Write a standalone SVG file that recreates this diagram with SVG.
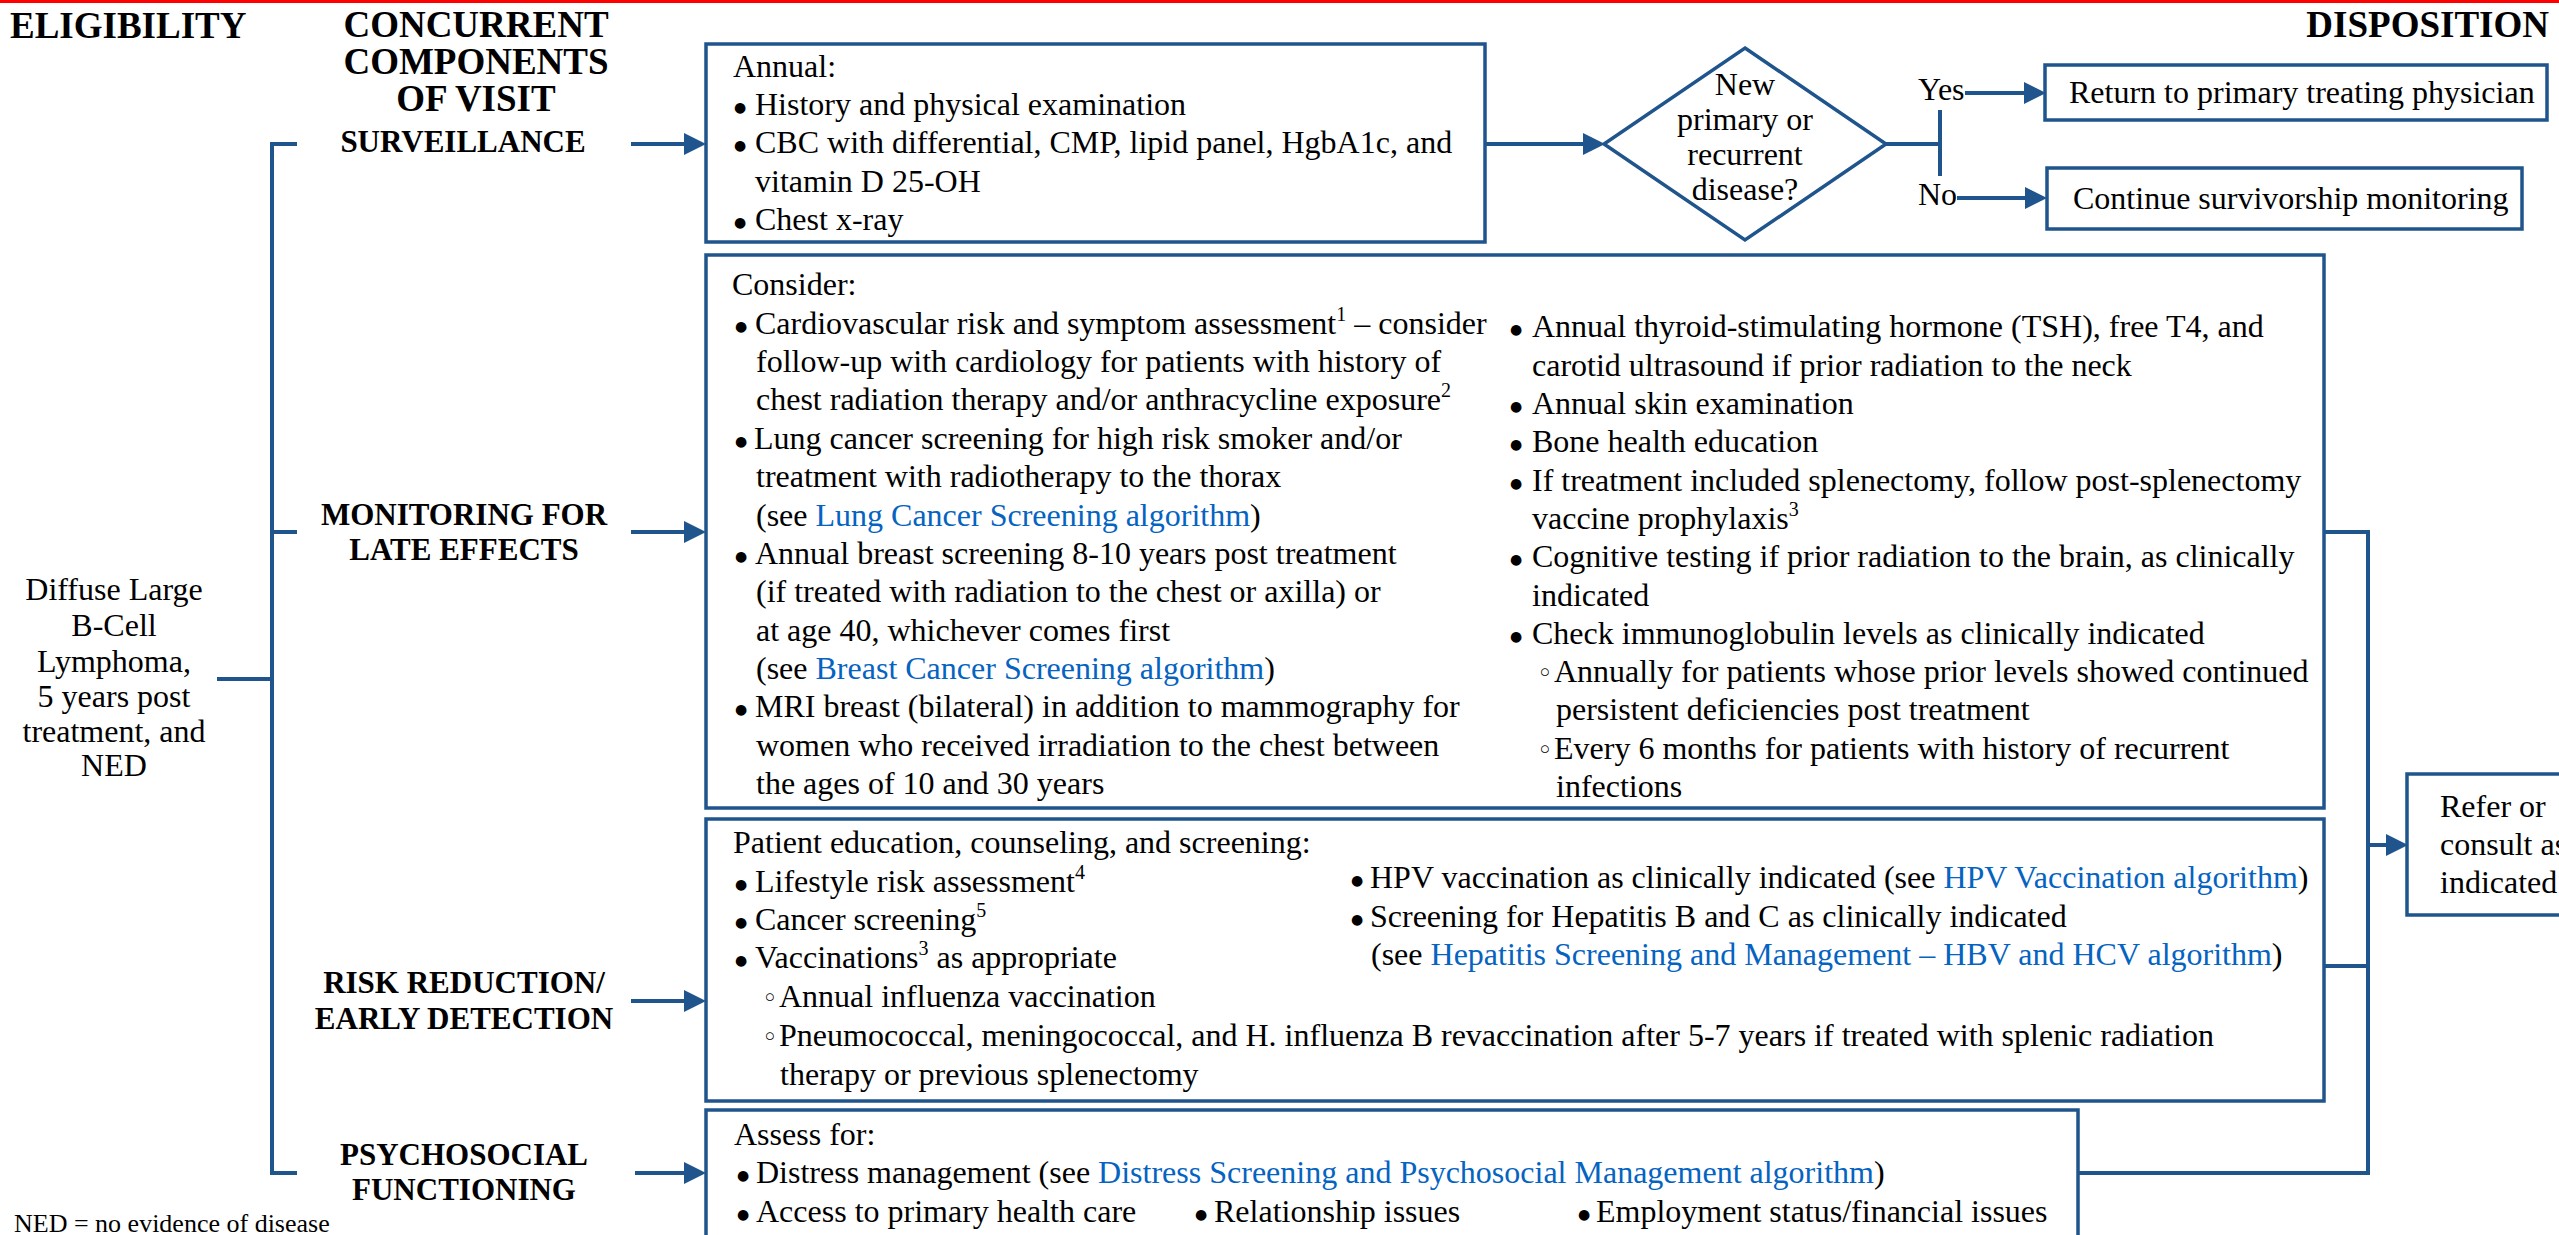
<svg xmlns="http://www.w3.org/2000/svg" width="2559" height="1235" viewBox="0 0 2559 1235">
<style>
text{font-family:"Liberation Serif","Times New Roman",serif;fill:#000}
.t{font-size:32px}
.h{font-size:37px;font-weight:bold}
.l{font-size:31px;font-weight:bold;text-anchor:middle}
.c{text-anchor:middle}
.lk{fill:#0563C1}
.bu{font-size:14px;font-family:"DejaVu Sans",sans-serif}
.sb{font-size:26px;font-family:"DejaVu Sans",sans-serif}
.sup{font-size:20px}
.box{fill:#fff;stroke:#1F558C;stroke-width:3.5}
.conn{stroke:#1F558C;stroke-width:4;fill:none}
.arr{stroke:#1F558C;stroke-width:4;fill:none;marker-end:url(#ah)}
</style>
<defs>
<marker id="ah" markerUnits="userSpaceOnUse" markerWidth="22" markerHeight="22" refX="10" refY="10" orient="auto" viewBox="0 0 20 20">
<path d="M0,0 L20,10 L0,20 z" fill="#1F558C"/>
</marker>
</defs>
<rect x="0" y="0" width="2559" height="3" fill="#FF0000"/>

<g id="headers">
<text class="h" x="10" y="38">ELIGIBILITY</text>
<text class="h c" x="476" y="37">CONCURRENT</text>
<text class="h c" x="476" y="74">COMPONENTS</text>
<text class="h c" x="476" y="111">OF VISIT</text>
<text class="h" x="2549" y="37" text-anchor="end">DISPOSITION</text>
</g>

<g id="connectors">
<path class="conn" d="M217,679 H272 M297,144 H272 V1173 H297 M272,532 H297"/>
<path class="arr" d="M631,144 H695"/>
<path class="arr" d="M631,532 H695"/>
<path class="arr" d="M631,1001 H695"/>
<path class="arr" d="M635,1173 H695"/>
<path class="arr" d="M1485,144 H1594"/>
<path class="conn" d="M1886,144 H1940 M1940,110 V176"/>
<path class="arr" d="M1965,93 H2035"/>
<path class="arr" d="M1957,198 H2036"/>
<path class="conn" d="M2324,532 H2368 V1173 H2078 M2324,966 H2368"/>
<path class="arr" d="M2368,845 H2397"/>
</g>

<g id="eligibility">
<text class="t c" x="114" y="600">Diffuse Large</text>
<text class="t c" x="114" y="636">B-Cell</text>
<text class="t c" x="114" y="672">Lymphoma,</text>
<text class="t c" x="114" y="707">5 years post</text>
<text class="t c" x="114" y="742">treatment, and</text>
<text class="t c" x="114" y="776">NED</text>
</g>

<g id="label-surveillance"><text class="l" x="463" y="152">SURVEILLANCE</text></g>
<g id="label-monitoring">
<text class="l" x="464" y="525">MONITORING FOR</text>
<text class="l" x="464" y="560">LATE EFFECTS</text>
</g>
<g id="label-risk">
<text class="l" x="464" y="993">RISK REDUCTION/</text>
<text class="l" x="464" y="1029">EARLY DETECTION</text>
</g>
<g id="label-psychosocial">
<text class="l" x="464" y="1165">PSYCHOSOCIAL</text>
<text class="l" x="464" y="1200">FUNCTIONING</text>
</g>

<g id="surveillance">
<rect class="box" x="706" y="44" width="779" height="198"/>
<text class="t" x="733" y="77">Annual:</text>
<text class="t" x="734" y="115"><tspan class="bu" dy="-3">●</tspan><tspan x="755" dy="3">History and physical examination</tspan></text>
<text class="t" x="734" y="153"><tspan class="bu" dy="-3">●</tspan><tspan x="755" dy="3">CBC with differential, CMP, lipid panel, HgbA1c, and</tspan></text>
<text class="t" x="755" y="192">vitamin D 25-OH</text>
<text class="t" x="734" y="230"><tspan class="bu" dy="-3">●</tspan><tspan x="755" dy="3">Chest x-ray</tspan></text>
</g>

<g id="decision">
<polygon points="1745,48 1886,144 1745,240 1604,144" fill="#fff" stroke="#1F558C" stroke-width="3.5"/>
<text class="t c" x="1745" y="95">New</text>
<text class="t c" x="1745" y="130">primary or</text>
<text class="t c" x="1745" y="165">recurrent</text>
<text class="t c" x="1745" y="200">disease?</text>
</g>
<g id="yes-no">
<text class="t" x="1918" y="100">Yes</text>
<text class="t" x="1918" y="205">No</text>
</g>

<g id="return">
<rect class="box" x="2045" y="65" width="502" height="55"/>
<text class="t" x="2069" y="103">Return to primary treating physician</text>
</g>
<g id="continue">
<rect class="box" x="2047" y="168" width="475" height="61"/>
<text class="t" x="2073" y="209">Continue survivorship monitoring</text>
</g>

<g id="monitoring">
<rect class="box" x="706" y="255" width="1618" height="553"/>
<text class="t" x="732" y="295">Consider:</text>
<text class="t" x="735" y="334"><tspan class="bu" dy="-3">●</tspan><tspan x="755" dy="3">Cardiovascular risk and symptom assessment</tspan><tspan class="sup" dy="-13">1</tspan><tspan dy="13"> – consider</tspan></text>
<text class="t" x="756" y="372">follow-up with cardiology for patients with history of</text>
<text class="t" x="756" y="410">chest radiation therapy and/or anthracycline exposure<tspan class="sup" dy="-13">2</tspan></text>
<text class="t" x="735" y="449"><tspan class="bu" dy="-3">●</tspan><tspan x="754" dy="3">Lung cancer screening for high risk smoker and/or</tspan></text>
<text class="t" x="756" y="487">treatment with radiotherapy to the thorax</text>
<text class="t" x="756" y="526">(see <tspan class="lk">Lung Cancer Screening algorithm</tspan>)</text>
<text class="t" x="735" y="564"><tspan class="bu" dy="-3">●</tspan><tspan x="755" dy="3">Annual breast screening 8-10 years post treatment</tspan></text>
<text class="t" x="756" y="602">(if treated with radiation to the chest or axilla) or</text>
<text class="t" x="756" y="641">at age 40, whichever comes first</text>
<text class="t" x="756" y="679">(see <tspan class="lk">Breast Cancer Screening algorithm</tspan>)</text>
<text class="t" x="735" y="717"><tspan class="bu" dy="-3">●</tspan><tspan x="755" dy="3">MRI breast (bilateral) in addition to mammography for</tspan></text>
<text class="t" x="756" y="756">women who received irradiation to the chest between</text>
<text class="t" x="756" y="794">the ages of 10 and 30 years</text>

<text class="t" x="1510" y="337"><tspan class="bu" dy="-3">●</tspan><tspan x="1532" dy="3">Annual thyroid-stimulating hormone (TSH), free T4, and</tspan></text>
<text class="t" x="1532" y="376">carotid ultrasound if prior radiation to the neck</text>
<text class="t" x="1510" y="414"><tspan class="bu" dy="-3">●</tspan><tspan x="1532" dy="3">Annual skin examination</tspan></text>
<text class="t" x="1510" y="452"><tspan class="bu" dy="-3">●</tspan><tspan x="1532" dy="3">Bone health education</tspan></text>
<text class="t" x="1510" y="491"><tspan class="bu" dy="-3">●</tspan><tspan x="1532" dy="3">If treatment included splenectomy, follow post-splenectomy</tspan></text>
<text class="t" x="1532" y="529">vaccine prophylaxis<tspan class="sup" dy="-13">3</tspan></text>
<text class="t" x="1510" y="567"><tspan class="bu" dy="-3">●</tspan><tspan x="1532" dy="3">Cognitive testing if prior radiation to the brain, as clinically</tspan></text>
<text class="t" x="1532" y="606">indicated</text>
<text class="t" x="1510" y="644"><tspan class="bu" dy="-3">●</tspan><tspan x="1532" dy="3">Check immunoglobulin levels as clinically indicated</tspan></text>
<text class="t" x="1537" y="682"><tspan class="sb">◦</tspan><tspan x="1554">Annually for patients whose prior levels showed continued</tspan></text>
<text class="t" x="1556" y="720">persistent deficiencies post treatment</text>
<text class="t" x="1537" y="759"><tspan class="sb">◦</tspan><tspan x="1554">Every 6 months for patients with history of recurrent</tspan></text>
<text class="t" x="1556" y="797">infections</text>
</g>

<g id="risk">
<rect class="box" x="706" y="819" width="1618" height="282"/>
<text class="t" x="733" y="853">Patient education, counseling, and screening:</text>
<text class="t" x="735" y="892"><tspan class="bu" dy="-3">●</tspan><tspan x="755" dy="3">Lifestyle risk assessment</tspan><tspan class="sup" dy="-13">4</tspan></text>
<text class="t" x="735" y="930"><tspan class="bu" dy="-3">●</tspan><tspan x="755" dy="3">Cancer screening</tspan><tspan class="sup" dy="-13">5</tspan></text>
<text class="t" x="735" y="968"><tspan class="bu" dy="-3">●</tspan><tspan x="755" dy="3">Vaccinations</tspan><tspan class="sup" dy="-13">3</tspan><tspan dy="13"> as appropriate</tspan></text>
<text class="t" x="762" y="1007"><tspan class="sb">◦</tspan><tspan x="779">Annual influenza vaccination</tspan></text>
<text class="t" x="762" y="1046"><tspan class="sb">◦</tspan><tspan x="779">Pneumococcal, meningococcal, and H. influenza B revaccination after 5-7 years if treated with splenic radiation</tspan></text>
<text class="t" x="780" y="1085">therapy or previous splenectomy</text>
<text class="t" x="1351" y="888"><tspan class="bu" dy="-3">●</tspan><tspan x="1370" dy="3">HPV vaccination as clinically indicated (see </tspan><tspan class="lk">HPV Vaccination algorithm</tspan>)</text>
<text class="t" x="1351" y="927"><tspan class="bu" dy="-3">●</tspan><tspan x="1370" dy="3">Screening for Hepatitis B and C as clinically indicated</tspan></text>
<text class="t" x="1371" y="965">(see <tspan class="lk">Hepatitis Screening and Management – HBV and HCV algorithm</tspan>)</text>
</g>

<g id="psychosocial">
<rect class="box" x="706" y="1110" width="1372" height="140"/>
<text class="t" x="734" y="1145">Assess for:</text>
<text class="t" x="737" y="1183"><tspan class="bu" dy="-3">●</tspan><tspan x="756" dy="3">Distress management (see </tspan><tspan class="lk">Distress Screening and Psychosocial Management algorithm</tspan>)</text>
<text class="t" x="737" y="1222"><tspan class="bu" dy="-3">●</tspan><tspan x="756" dy="3">Access to primary health care</tspan><tspan class="bu" x="1195" dy="-3">●</tspan><tspan x="1214" dy="3">Relationship issues</tspan><tspan class="bu" x="1578" dy="-3">●</tspan><tspan x="1596" dy="3">Employment status/financial issues</tspan></text>
</g>

<g id="refer">
<rect class="box" x="2407" y="774" width="220" height="141"/>
<text class="t" x="2440" y="817">Refer or</text>
<text class="t" x="2440" y="855">consult as</text>
<text class="t" x="2440" y="893">indicated</text>
</g>

<text x="14" y="1232" font-size="26">NED = no evidence of disease</text>
</svg>
